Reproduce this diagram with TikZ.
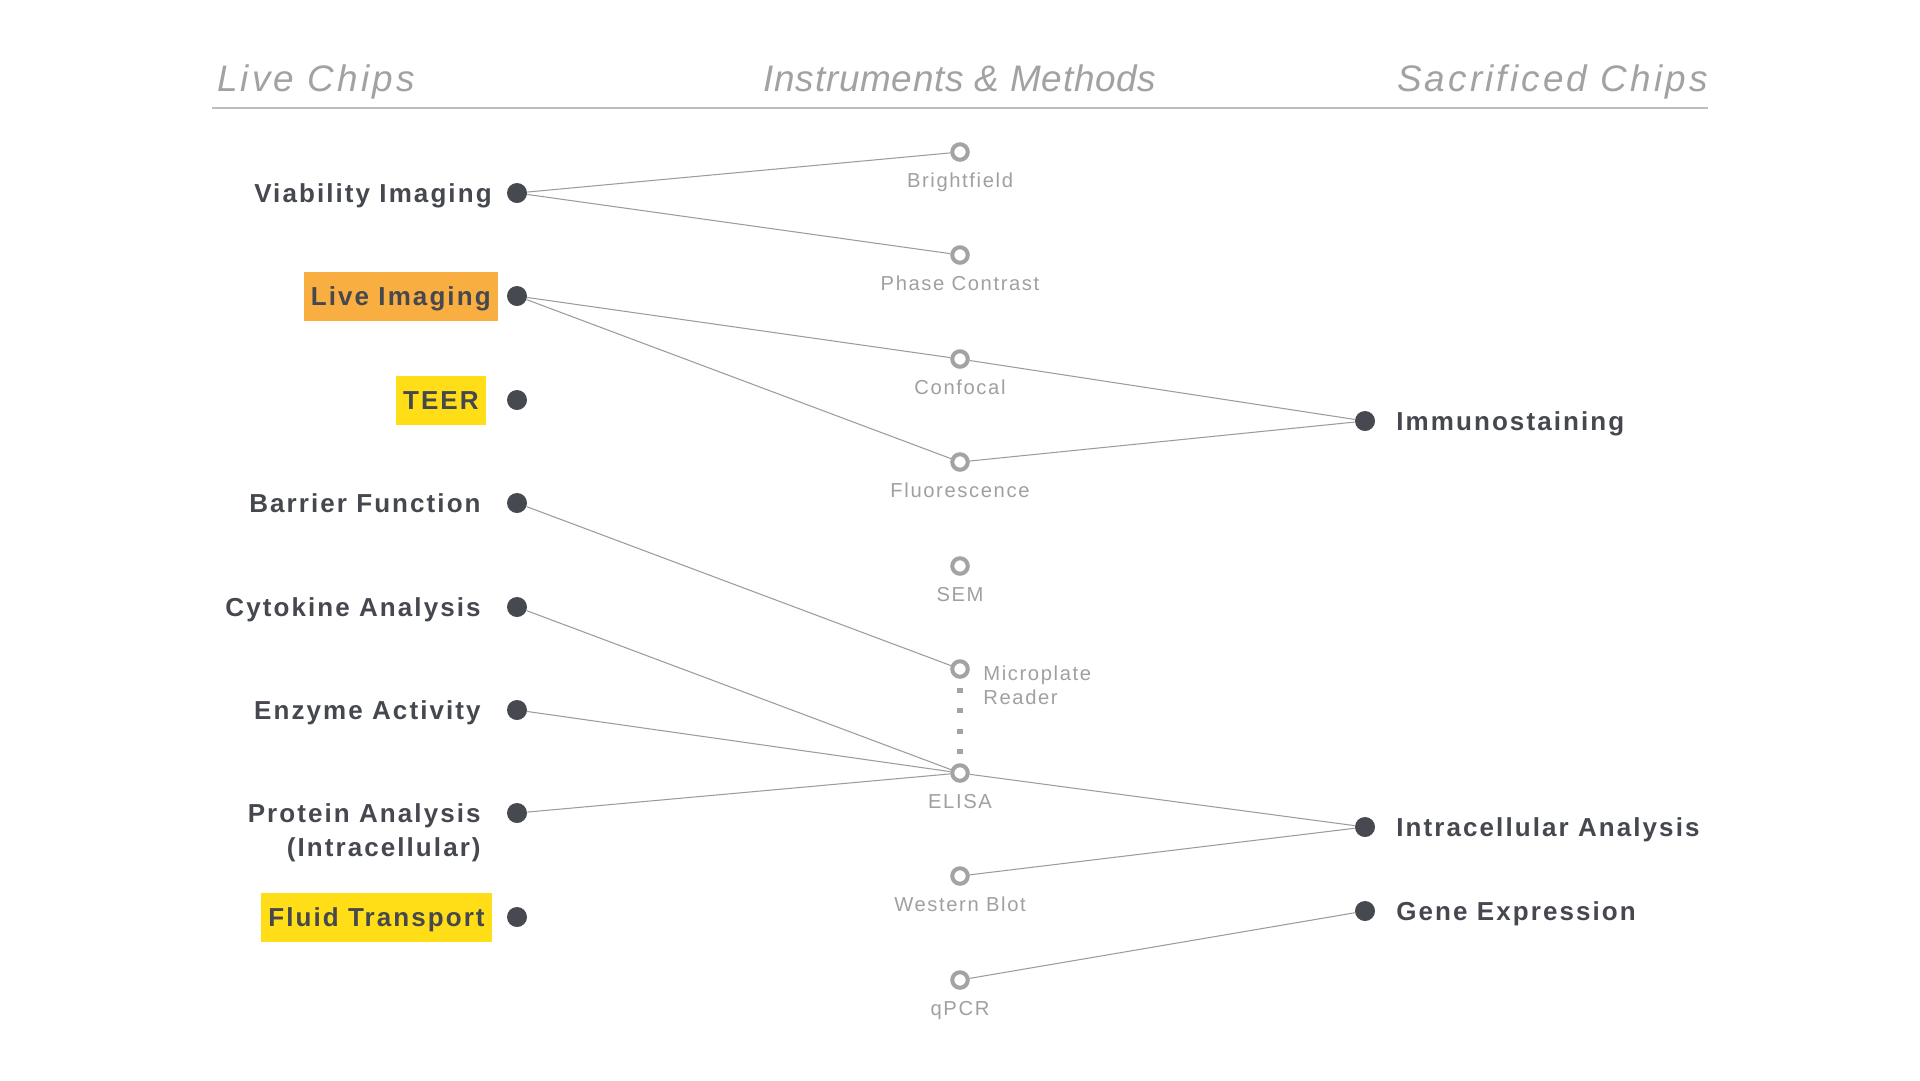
\documentclass[tikz,border=0pt]{standalone}
\usepackage{fontspec}
\setmainfont{Liberation Sans}
\newfontfamily\lblfont[LetterSpace=8]{Liberation Sans}
\newfontfamily\methfont[LetterSpace=8]{Liberation Sans}
\newfontfamily\headfont[LetterSpace=8.5]{Liberation Sans}
\newfontfamily\headfontn[LetterSpace=2]{Liberation Sans}
\usepackage{xcolor}
\usetikzlibrary{positioning}

\definecolor{inkdark}{HTML}{45484E}
\definecolor{dotdark}{HTML}{46494F}
\definecolor{methgray}{HTML}{A0A0A0}
\definecolor{ringgray}{HTML}{A3A3A3}
\definecolor{linegray}{HTML}{9C9C9C}
\definecolor{headgray}{HTML}{A2A2A2}
\definecolor{rulegray}{HTML}{BDBDBD}
\definecolor{liveorange}{HTML}{F9AE42}
\definecolor{teeryellow}{HTML}{FFDD17}

\begin{document}
\begin{tikzpicture}[x=0.02cm, y=-0.02cm,
    chip/.style={circle, fill=dotdark, inner sep=0pt, minimum size=0.4cm},
    meth/.style={circle, draw=ringgray, line width=2.3pt, inner sep=0pt, minimum size=0.31cm},
    lbltext/.style={font=\lblfont\bfseries\fontsize{14.8}{19.3}\selectfont, text=inkdark, inner sep=0pt},
    lbl/.style={lbltext, text height=0.37cm, text depth=0pt},
    hilite/.style={lbl, inner xsep=0.14cm, minimum height=0.98cm},
    methtext/.style={font=\methfont\fontsize{11.5}{14.2}\selectfont, text=methgray, inner sep=0pt},
    methlbl/.style={methtext, text height=0.28cm, text depth=0pt, below=0.22cm of #1},
    head/.style={font=\headfont\itshape\fontsize{21}{25}\selectfont, text=headgray, inner sep=0pt},
    link/.style={draw=linegray, line width=0.6pt},
    dotlink/.style={draw=ringgray, line width=3.2pt, dash pattern=on 2.8pt off 8.8pt, dash phase=6.3pt}
  ]
  \fill[white] (0,0) rectangle (1920,1080);
  \useasboundingbox (0,0) rectangle (1920,1080);

  % Kopfzeile
  \node[head, anchor=base west] (hlive) at (217,91) {Live Chips};
  \node[head, font=\headfontn\itshape\fontsize{21}{25}\selectfont, anchor=base] (hmeth) at (960,91) {Instruments \& Methods};
  \node[head, anchor=base east] (hsac) at (1708,91) {Sacrificed Chips};
  \coordinate (rulel) at (212,108);
  \coordinate (ruler) at (1708,108);
  \draw[rulegray, line width=1.1pt] (rulel) -- (ruler);

  % Live Chips (links)
  \node[chip] (viab) at (517,193) {};
  \node[chip] (live) at (517,296) {};
  \node[chip] (teer) at (517,400) {};
  \node[chip] (barr) at (517,503) {};
  \node[chip] (cyto) at (517,607) {};
  \node[chip] (enzy) at (517,710) {};
  \node[chip] (prot) at (517,813) {};
  \node[chip] (flui) at (517,917) {};

  \node[lbl, anchor=east] (viablbl) at (492,193) {Viability Imaging};
  \node[hilite, fill=liveorange, anchor=east] (livelbl) at (498,296) {Live Imaging};
  \node[hilite, fill=teeryellow, anchor=east] (teerlbl) at (486,400) {TEER};
  \node[lbl, anchor=east] (barrlbl) at (481,503) {Barrier Function};
  \node[lbl, anchor=east] (cytolbl) at (481,607) {Cytokine Analysis};
  \node[lbl, anchor=east] (enzylbl) at (481,710) {Enzyme Activity};
  \node[lbltext, align=right, anchor=north east] (protlbl) at (481,803) {Protein Analysis\\(Intracellular)};
  \node[hilite, fill=teeryellow, anchor=east] (fluilbl) at (492,917) {Fluid Transport};

  % Instrumente und Methoden (Mitte)
  \node[meth] (brig) at (960,152) {};
  \node[meth] (phas) at (960,255) {};
  \node[meth] (conf) at (960,359) {};
  \node[meth] (fluo) at (960,462) {};
  \node[meth] (sem) at (960,566) {};
  \node[meth] (mplt) at (960,669) {};
  \node[meth] (elis) at (960,773) {};
  \node[meth] (west) at (960,876) {};
  \node[meth] (qpcr) at (960,980) {};

  \node[methlbl=brig] (briglbl) {Brightfield};
  \node[methlbl=phas] (phaslbl) {Phase Contrast};
  \node[methlbl=conf] (conflbl) {Confocal};
  \node[methlbl=fluo] (fluolbl) {Fluorescence};
  \node[methlbl=sem] (semlbl) {SEM};
  \node[methtext, align=left, anchor=north west] (mpltlbl) at (983,665) {Microplate\\Reader};
  \node[methlbl=elis] (elislbl) {ELISA};
  \node[methlbl=west] (westlbl) {Western Blot};
  \node[methlbl=qpcr] (qpcrlbl) {qPCR};

  % Sacrificed Chips (rechts)
  \node[chip] (immu) at (1365,421) {};
  \node[chip] (intr) at (1365,827) {};
  \node[chip] (gene) at (1365,911) {};

  \node[lbl, anchor=west] (immulbl) at (1396,421) {Immunostaining};
  \node[lbl, anchor=west] (intrlbl) at (1396,827) {Intracellular Analysis};
  \node[lbl, anchor=west] (genelbl) at (1396,911) {Gene Expression};

  % Verbindungen
  \draw[link] (viab) -- (brig);
  \draw[link] (viab) -- (phas);
  \draw[link] (live) -- (conf);
  \draw[link] (live) -- (fluo);
  \draw[link] (barr) -- (mplt);
  \draw[link] (cyto) -- (elis);
  \draw[link] (enzy) -- (elis);
  \draw[link] (prot) -- (elis);
  \draw[link] (conf) -- (immu);
  \draw[link] (fluo) -- (immu);
  \draw[link] (elis) -- (intr);
  \draw[link] (west) -- (intr);
  \draw[link] (qpcr) -- (gene);
  \draw[dotlink] (mplt) -- (elis);
\end{tikzpicture}
\end{document}
